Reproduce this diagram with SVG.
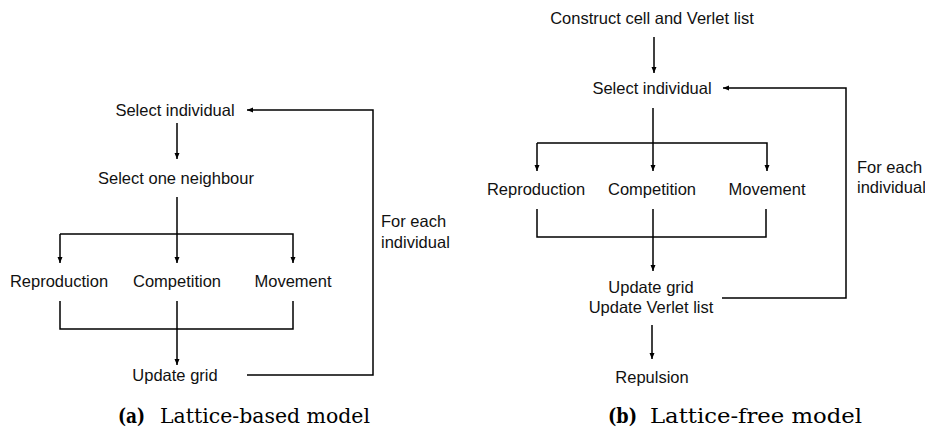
<svg xmlns="http://www.w3.org/2000/svg" width="925" height="431" viewBox="0 0 925 431">
<defs>
<marker id="ah" markerWidth="6" markerHeight="6" refX="6" refY="3" orient="auto" markerUnits="userSpaceOnUse">
<path d="M0,0.5 L6,3 L0,5.5 Z" fill="#000"/>
</marker>
</defs>
<style>
.t{font-family:"Liberation Sans",Arial,sans-serif;font-size:16.5px;fill:#111;text-anchor:middle}
.c{font-family:"DejaVu Serif","Liberation Serif",serif;font-size:20.5px;fill:#000}
.cb{font-family:"DejaVu Serif","Liberation Serif",serif;font-size:20.5px;font-weight:bold;fill:#000}
.ln{fill:none;stroke:#000;stroke-width:1.5}
.ar{fill:none;stroke:#000;stroke-width:1.5;marker-end:url(#ah)}
</style>
<rect width="925" height="431" fill="#fff"/>
<g id="connectors">
<path class="ar" d="M177,123 V159"/>
<path class="ar" d="M177,197 V263"/>
<path class="ar" d="M60,234 H293 V263"/>
<path class="ar" d="M60,234 V263"/>
<path class="ln" d="M60,301 V329 H293 V301"/>
<path class="ar" d="M177,301 V365"/>
<path class="ar" d="M247,375 H373 V110 H247"/>
<path class="ar" d="M654,37 V73"/>
<path class="ar" d="M653,108 V171"/>
<path class="ar" d="M537,143 H767 V171"/>
<path class="ar" d="M537,143 V171"/>
<path class="ln" d="M537,209 V237 H766 V209"/>
<path class="ar" d="M653,209 V271"/>
<path class="ar" d="M722,298 H846 V88 H723"/>
<path class="ar" d="M652,325 V359"/>
</g>
<g id="a-select"><text class="t" x="175" y="116">Select individual</text></g>
<g id="a-neighbour"><text class="t" x="176" y="184">Select one neighbour</text></g>
<g id="a-repro"><text class="t" x="59" y="287">Reproduction</text></g>
<g id="a-comp"><text class="t" x="177" y="287">Competition</text></g>
<g id="a-move"><text class="t" x="293" y="287">Movement</text></g>
<g id="a-update"><text class="t" x="175" y="381">Update grid</text></g>
<g id="a-foreach"><text class="t" x="381" y="227" style="text-anchor:start">For each</text><text class="t" x="381" y="248" style="text-anchor:start">individual</text></g>
<g id="b-construct"><text class="t" x="652" y="24">Construct cell and Verlet list</text></g>
<g id="b-select"><text class="t" x="652" y="94">Select individual</text></g>
<g id="b-repro"><text class="t" x="536" y="195">Reproduction</text></g>
<g id="b-comp"><text class="t" x="652" y="195">Competition</text></g>
<g id="b-move"><text class="t" x="767" y="195">Movement</text></g>
<g id="b-update"><text class="t" x="651" y="293">Update grid</text><text class="t" x="651" y="313">Update Verlet list</text></g>
<g id="b-repulsion"><text class="t" x="652" y="383">Repulsion</text></g>
<g id="b-foreach"><text class="t" x="857" y="173" style="text-anchor:start">For each</text><text class="t" x="857" y="193" style="text-anchor:start">individual</text></g>
<g id="captions">
<text class="cb" x="118" y="423" textLength="27" lengthAdjust="spacingAndGlyphs">(a)</text>
<text class="c" x="160" y="423" textLength="210" lengthAdjust="spacingAndGlyphs">Lattice-based model</text>
<text class="cb" x="608" y="423" textLength="29" lengthAdjust="spacingAndGlyphs">(b)</text>
<text class="c" x="650" y="423" textLength="212" lengthAdjust="spacingAndGlyphs">Lattice-free model</text>
</g>
</svg>
